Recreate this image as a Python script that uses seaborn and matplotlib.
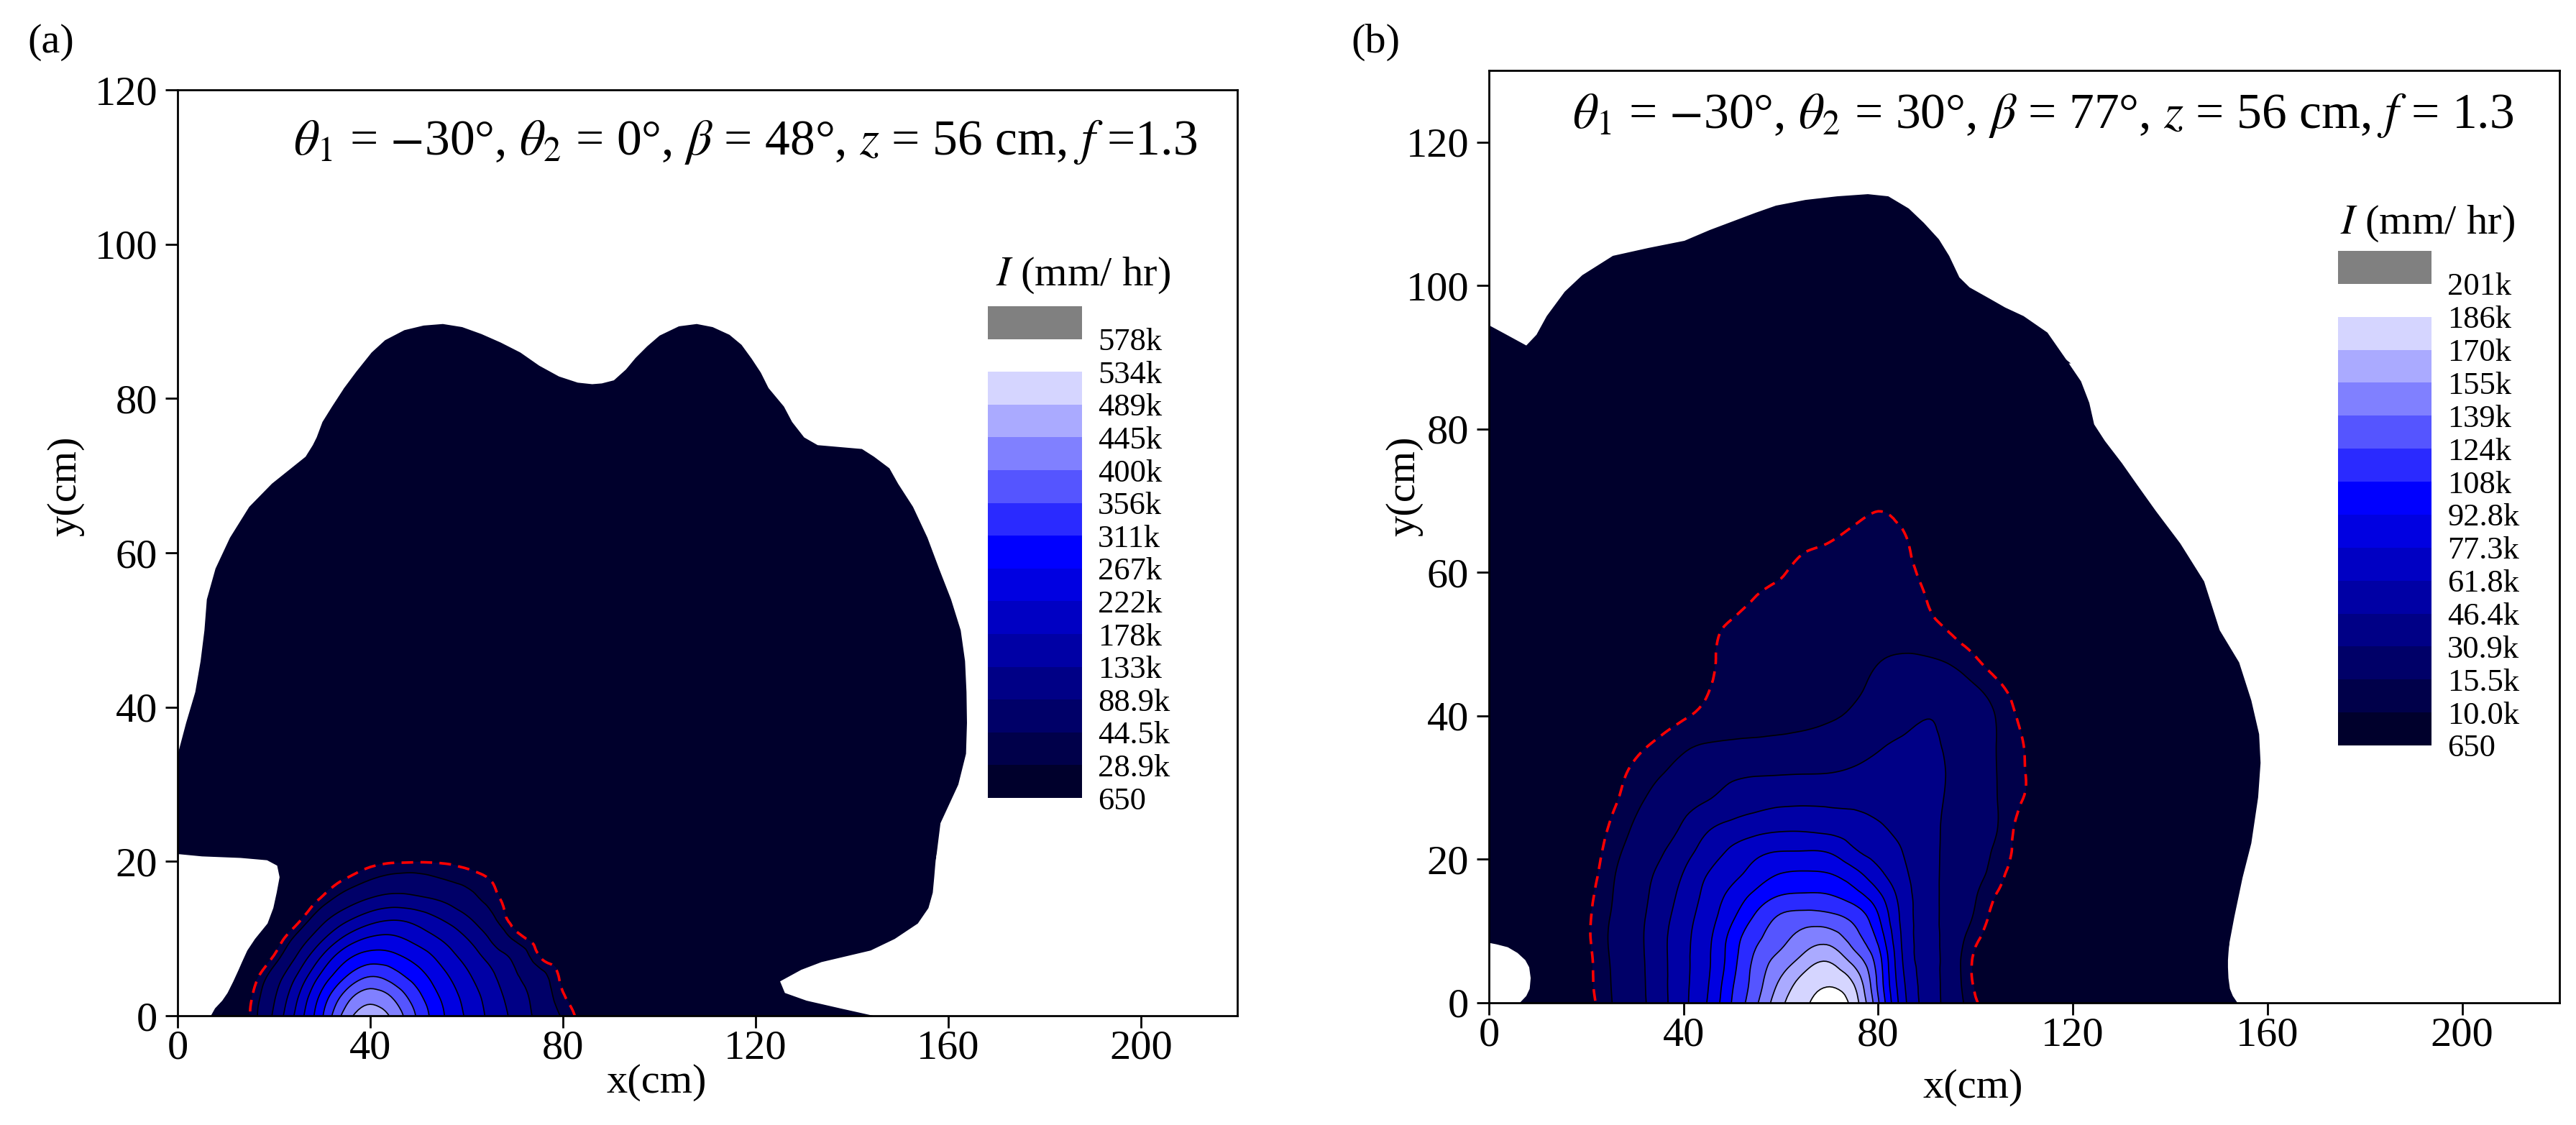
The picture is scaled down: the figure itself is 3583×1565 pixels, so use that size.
import numpy as np
import matplotlib
matplotlib.use("Agg")
import matplotlib.pyplot as plt
import matplotlib.tri as mtri
from matplotlib.colors import ListedColormap, BoundaryNorm
from matplotlib.cm import ScalarMappable
import seaborn as sns

# ---------------- data ----------------
# contour levels of I (k mm/hr) and their legend labels
levels_a = [0.65, 28.9, 44.5, 88.9, 133, 178, 222, 267, 311, 356, 400, 445, 489, 534, 578]
labels_a = ["650", "28.9k", "44.5k", "88.9k", "133k", "178k", "222k", "267k", "311k",
            "356k", "400k", "445k", "489k", "534k", "578k"]
levels_b = [0.65, 10.0, 15.5, 30.9, 46.4, 61.8, 77.3, 92.8, 108, 124, 139, 155, 170, 186, 201]
labels_b = ["650", "10.0k", "15.5k", "30.9k", "46.4k", "61.8k", "77.3k", "92.8k", "108k",
            "124k", "139k", "155k", "170k", "186k", "201k"]

# (a) outer 650 contour, per row: y, left edge, right edge (cm)
env_a_y = [0, 1, 2, 3, 4.5, 6, 7, 8.5, 10, 12, 14, 16, 18, 19.5, 20.2, 20.5, 20.7, 21, 25, 30,
           34, 38, 42, 46, 50, 54, 58, 62, 66, 69, 71, 72.5, 73.5, 74, 75, 77, 79, 81.4]
env_a_l = [6.8, 7.7, 9.2, 10.3, 11.5, 12.6, 13.3, 14.4, 16, 18.6, 19.8, 20.5, 21.1, 20.6, 18.5,
           13, 5, 0, 0, 0, 0, 1.7, 3.6, 4.7, 5.5, 6, 7.8, 10.8, 14.8, 19.5, 23.5, 26.5, 27.5,
           28, 28.8, 30, 32, 34.5]
env_a_r = [144.7, 137.5, 130.5, 126, 125, 129.4, 133.6, 143.8, 148.8, 153.6, 155.8, 156.7, 157,
           157.2, 157.3, 157.4, 157.4, 157.5, 158.3, 162, 163.6, 163.8, 163.7, 163.4, 162.5,
           160.5, 158, 155.6, 152.6, 149.5, 147.7, 144.5, 142, 132.8, 130, 127.5, 125.8, 122.6]
# (a) wavy top of the 650 contour
cap_a_x = [34.5, 37, 40.2, 43, 47, 51, 55, 59, 63, 67, 71.1, 75, 79.1, 83, 86, 88, 90.5, 93,
           95, 97.4, 100, 104, 107.7, 111, 114.5, 117, 119.1, 121, 122.6]
cap_a_top = [81.4, 83.5, 86, 87.6, 88.9, 89.5, 89.7, 89.3, 88.4, 87.3, 86, 84.3, 82.9, 82.1,
             81.9, 82, 82.4, 83.8, 85.3, 86.8, 88.2, 89.4, 89.7, 89.3, 88.3, 87, 85.2, 83.4, 81.4]

# (a) intensity grid around the peak (k mm/hr)
peak_a_x = [10, 15, 20, 25, 30, 35, 40, 45, 50, 55, 60, 65, 70, 75, 80, 85, 90]
peak_a_y = [0, 2.5, 5, 7.5, 10, 12.5, 15, 17.5, 20, 22.5]
peak_a_I = [
    [10, 28, 96, 196, 306, 422, 470, 430, 346, 272, 216, 166, 121, 76, 41, 20, 12],
    [10, 25, 83, 176, 281, 377, 425, 391, 322, 259, 206, 158, 112, 70, 31, 18, 12],
    [10, 18, 63, 142, 237, 313, 358, 333, 287, 236, 188, 143, 97, 59, 24, 16, 12],
    [10, 14, 32, 99, 185, 258, 290, 280, 249, 207, 164, 120, 78, 31, 20, 14, 11],
    [9, 13, 18, 58, 126, 191, 228, 230, 205, 173, 134, 85, 40, 22, 17, 13, 10],
    [9, 12, 16, 24, 74, 124, 160, 175, 160, 131, 97, 54, 22, 17, 14, 11, 10],
    [8, 11, 14, 18, 33, 66, 95, 108, 100, 85, 60, 36, 22, 16, 13, 11, 10],
    [8, 10, 13, 17, 22, 31, 46, 58, 57, 47, 38, 29, 20, 15, 12, 10, 9],
    [7, 9, 12, 15, 18, 21, 25, 27.5, 28, 27.5, 25, 21, 17, 14, 11, 10, 9],
    [7, 8, 10, 12, 14, 16, 18, 19, 19, 18, 17, 15, 13, 12, 10, 9, 8],
]

# (b) outer 650 contour, per row
env_b_y = [0, 1, 2, 3.5, 5, 6, 7, 7.8, 8.2, 8.4, 12, 17.5, 22.3, 28.7, 33.5, 37.5, 42.2, 47.5,
           52, 58.8, 64.1, 68.6, 72.4, 75.3, 78.4, 80.7, 83.7, 86.7, 89.7]
env_b_l = [6.2, 7.6, 8.3, 8.5, 8.2, 7.4, 5.8, 3.8, 1.5, 0, 0, 0, 0, 0, 0, 0, 0, 0, 0, 0, 0, 0,
           0, 0, 0, 0, 0, 0, 0]
env_b_r = [153.8, 152.8, 152.2, 151.9, 151.8, 151.8, 151.9, 152, 152.1, 152.1, 153.1, 154.8,
           156.6, 158, 158.5, 158.2, 156.6, 154.1, 150.1, 146.9, 142, 137, 133, 130, 126.5,
           124.3, 123.3, 121.6, 118.6]
cap_b_x = [0, 3, 7.6, 9.7, 11.8, 15.5, 19.1, 25.4, 32.7, 40.1, 45.3, 50, 54.7, 58.9, 65, 71.5,
           77.8, 82, 86.2, 89.3, 92.4, 94.5, 96.6, 98.7, 102.9, 106, 109.8, 114.7, 118.6, 119.5]
cap_b_top = [94.5, 93.4, 91.7, 93.2, 95.8, 99.2, 101.5, 104.2, 105.3, 106.3, 107.8, 109, 110.2,
             111.2, 112, 112.5, 112.8, 112.5, 110.8, 108.8, 106.5, 104.2, 101.2, 99.8, 98.2,
             97, 95.8, 93.5, 89.7, 89.2]

# (b) intensity grid around the peak (k mm/hr)
peak_b_x = [15, 20, 25, 30, 35, 40, 45, 50, 55, 60, 65, 70, 75, 80, 85, 90, 95, 100, 105, 110, 115]
peak_b_y = [0, 3, 6, 9, 12, 15, 18, 21, 24, 28, 32, 36, 40, 44, 48, 52, 56, 60, 64, 68, 72]
peak_b_I = [
    [6, 8, 14.9, 25.1, 39.6, 58.2, 78.5, 109.1, 136.9, 166.6, 183, 196, 178.5, 126, 68.7, 40.4, 23.2, 10.6, 7, 6, 5],
    [6, 8.5, 15.4, 25.6, 40, 58, 76.2, 105.6, 131.7, 157.4, 176, 182.8, 167.7, 120, 65.2, 39.7, 22.5, 9, 7, 6, 5],
    [6, 8.5, 15.9, 26, 40.3, 57.7, 74.9, 101.8, 128.3, 145, 161, 168, 148.5, 115, 61.8, 39, 22.3, 9, 7, 6, 5],
    [6, 9, 16.5, 26.5, 40.5, 57.4, 73.7, 99, 120.7, 134.4, 146, 148, 131.3, 104, 59.5, 38, 23.3, 11.2, 7, 6, 5],
    [6, 9, 15.7, 25.8, 38.8, 54.9, 70.4, 90, 111, 126, 130, 128, 118.8, 94, 57.6, 37.4, 24.5, 14.4, 7, 6, 5],
    [6, 8.5, 14.7, 24.5, 36.4, 51.3, 66.9, 82.1, 97.3, 108, 110, 108.5, 99.3, 80.9, 55, 36.9, 25.5, 16, 9, 6, 5],
    [6, 7.5, 13.8, 22.8, 33.6, 47, 62, 72.6, 84.1, 93, 94.5, 93, 82.6, 66, 49.9, 36.4, 26.3, 18.4, 11.5, 6, 5],
    [6, 7, 12.3, 19.7, 28.7, 40.7, 53.6, 65, 73.8, 78, 78.5, 76.5, 64.6, 55.3, 46.4, 35.8, 27.1, 20, 13, 7.5, 5],
    [6, 6.5, 10.8, 17, 24.8, 33.6, 45.9, 53, 58, 61, 61, 59, 55, 49, 42.9, 35, 27.8, 21.3, 14.6, 7, 5],
    [6, 7.5, 9, 13.7, 19.7, 26.6, 31.5, 38, 42, 44, 44.5, 44, 43, 41, 39, 35, 28.7, 21.7, 14.9, 9.5, 6],
    [6, 7, 8, 11.3, 14.9, 19, 24, 28, 29.5, 30, 30.5, 31, 33, 35, 36, 35, 29.3, 21.9, 14.7, 10.2, 6],
    [6, 6.5, 7, 8.5, 11.2, 14.1, 16, 17, 17.5, 18, 19, 21, 24, 29, 33, 33, 28.6, 21.5, 14.6, 9.9, 6],
    [5, 5.5, 6, 6.5, 7.5, 9.5, 11, 12, 12.5, 13, 13.5, 14.5, 17, 21, 26, 30.5, 27, 21, 14.1, 8.5, 6],
    [5, 5, 5.5, 6, 7, 8, 9.8, 11, 11, 11.5, 12, 13, 14.5, 17.5, 22, 24, 21, 16, 10.8, 7, 5.5],
    [5, 5, 5, 5.5, 6, 7, 9.2, 11, 11, 11.5, 12, 12.5, 13.5, 15, 16.5, 16, 14, 10.3, 7, 6, 5],
    [5, 5, 5, 5, 5.5, 6.5, 8.5, 11, 12, 12.5, 13, 13, 13, 13, 12.5, 11.5, 9.5, 7, 6, 5, 5],
    [5, 5, 5, 5, 5, 5.5, 6.5, 8, 10.5, 11.5, 12, 12, 12, 12, 11.5, 10, 7.5, 6, 5, 5, 5],
    [5, 5, 5, 5, 5, 5.5, 6, 7, 8.5, 9.7, 11, 11.5, 11.5, 11.5, 11, 9, 7, 6, 5, 5, 5],
    [5, 5, 5, 5, 5, 5, 5.5, 6.5, 7.5, 8.5, 9.5, 10.1, 11, 11, 10.5, 8, 6.5, 5.5, 5, 5, 5],
    [5, 5, 5, 5, 5, 5, 5, 5.5, 6, 7, 8, 8.5, 9.3, 10.2, 9.3, 7.5, 6, 5.5, 5, 5, 5],
    [5, 5, 5, 5, 5, 5, 5, 5, 5.5, 6, 6.5, 7, 7.5, 8, 7.5, 6.5, 5.5, 5, 5, 5, 5],
]

title_a = r"$\theta_{\mathit{1}}$ = $-$30°, $\theta_{\mathit{2}}$ = 0°, $\beta$ = 48°, $z$ = 56 cm, $f$ =1.3"
title_b = r"$\theta_{\mathit{1}}$ = $-$30°, $\theta_{\mathit{2}}$ = 30°, $\beta$ = 77°, $z$ = 56 cm, $f$ = 1.3"

# ---------------- style ----------------
sns.set_theme(style="ticks", rc={
    "axes.edgecolor": "black", "xtick.color": "black", "ytick.color": "black",
    "text.color": "black", "axes.labelcolor": "black",
})
plt.rcParams["font.family"] = ["Liberation Serif", "DejaVu Serif"]
plt.rcParams["mathtext.fontset"] = "stix"

# 14 bands: navy -> pure blue -> white
band_colors = sns.blend_palette(["#00002c", "#0000ff"], n_colors=8) + \
    sns.blend_palette(["#0000ff", "#ffffff"], n_colors=7)[1:]
over_color = "#808080"


def grid_tri(xs, ys):
    X, Y = np.meshgrid(xs, ys)
    nx = len(xs)
    tris = []
    for j in range(len(ys) - 1):
        for i in range(nx - 1):
            a = j * nx + i
            tris.append([a, a + 1, a + nx + 1])
            tris.append([a, a + nx + 1, a + nx])
    return mtri.Triangulation(X.ravel(), Y.ravel(), np.array(tris))


def draw_panel(ax, env_y, env_l, env_r, cap_x, cap_top, cap_base, gx, gy, gI, levels):
    # lowest band (650 contour) drawn from its outline
    ax.fill_betweenx(env_y, env_l, env_r, color=band_colors[0], lw=0, zorder=1)
    ax.fill_between(cap_x, cap_base, cap_top, color=band_colors[0], lw=0, zorder=1)
    # upper bands from the intensity grid
    tri = grid_tri(gx, gy)
    tri_f, z_f = mtri.UniformTriRefiner(tri).refine_field(np.asarray(gI, float).ravel(), subdiv=3)
    ax.tricontourf(tri_f, z_f, levels=levels[1:], colors=band_colors[1:], zorder=2)
    ax.tricontour(tri_f, z_f, levels=levels[2:], colors="black", linewidths=1.2, zorder=3)
    ax.tricontour(tri_f, z_f, levels=[levels[1]], colors="red", linewidths=2.6,
                  linestyles=[(0, (4.5, 2.8))], zorder=3)


def add_legend(fig, rect, levels, labels, title_xy):
    cax = fig.add_axes(rect)
    cmap = ListedColormap(band_colors)
    cmap.set_over(over_color)
    norm = BoundaryNorm(levels, cmap.N)
    cb = fig.colorbar(ScalarMappable(norm=norm, cmap=cmap), cax=cax, extend="max",
                      extendrect=True, extendfrac=1 / 14, spacing="uniform", ticks=levels)
    cb.outline.set_visible(False)
    cb.ax.set_yticklabels(labels)
    cb.ax.tick_params(length=0, pad=16, labelsize=32)
    fig.text(title_xy[0], title_xy[1], r"$I$ (mm/ hr)", fontsize=42, ha="left", va="center")


fig = plt.figure(figsize=(35.83, 15.65), dpi=100)
ax_a = fig.add_axes([0.06894, 0.09712, 0.41139, 0.82300])
ax_b = fig.add_axes([0.57801, 0.10863, 0.41557, 0.82875])

draw_panel(ax_a, env_a_y, env_a_l, env_a_r, cap_a_x, cap_a_top, 81.0,
           peak_a_x, peak_a_y, peak_a_I, levels_a)
draw_panel(ax_b, env_b_y, env_b_l, env_b_r, cap_b_x, cap_b_top, 89.2,
           peak_b_x, peak_b_y, peak_b_I, levels_b)

for ax, ymax, ylab_x, ylab_y, xlab_y in [(ax_a, 120, -0.106, 0.572, -0.072),
                                          (ax_b, 130, -0.079, 0.554, -0.091)]:
    ax.set_xlim(0, 220)
    ax.set_ylim(0, ymax)
    ax.set_xticks([0, 40, 80, 120, 160, 200])
    ax.set_yticks([0, 20, 40, 60, 80, 100, 120])
    ax.tick_params(axis="both", direction="out", length=12, width=2, labelsize=42)
    ax.tick_params(axis="x", pad=2)
    ax.tick_params(axis="y", pad=8)
    for sp in ax.spines.values():
        sp.set_linewidth(2)
        sp.set_zorder(5)
    ax.set_xlabel("x(cm)", fontsize=42)
    ax.set_ylabel("y(cm)", fontsize=42)
    ax.xaxis.set_label_coords(0.452, xlab_y)
    ax.xaxis.label.set_va("center")
    ax.yaxis.set_label_coords(ylab_x, ylab_y)
    ax.yaxis.label.set_va("center")
    ax.set_facecolor("white")

ax_a.text(0.962, 0.944, title_a, transform=ax_a.transAxes, fontsize=50,
          ha="right", va="center", zorder=6)
ax_b.text(0.957, 0.952, title_b, transform=ax_b.transAxes, fontsize=50,
          ha="right", va="center", zorder=6)

add_legend(fig, [0.3835, 0.2907, 0.03656, 0.4371], levels_a, labels_a, (0.3865, 0.7553))
add_legend(fig, [0.9076, 0.3374, 0.03628, 0.4396], levels_b, labels_b, (0.9085, 0.8013))

fig.text(0.0198, 0.9623, "(a)", fontsize=42, ha="center", va="center")
fig.text(0.534, 0.9623, "(b)", fontsize=42, ha="center", va="center")

fig.savefig("out.png", dpi=100)
